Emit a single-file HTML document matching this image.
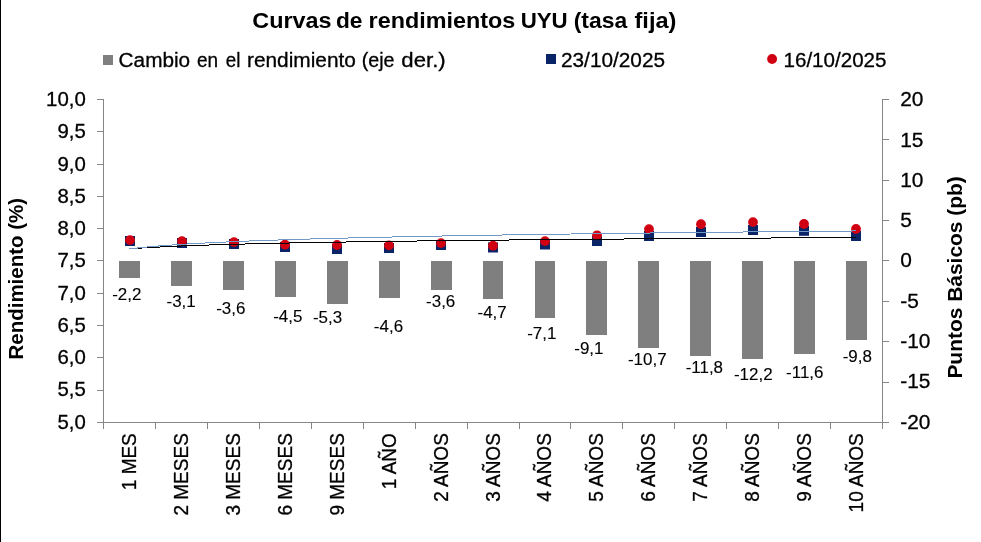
<!DOCTYPE html>
<html><head><meta charset="utf-8"><title>Curvas de rendimientos UYU</title>
<style>html,body{margin:0;padding:0;background:#fff;}body{width:981px;height:542px;position:relative;overflow:hidden;font-family:"Liberation Sans",sans-serif;}</style></head>
<body>
<svg width="981" height="542" viewBox="0 0 981 542" style="position:absolute;left:0;top:0;will-change:transform;font-family:'Liberation Sans',sans-serif">
<rect x="0" y="0" width="981" height="542" fill="#fff"/>
<rect x="0" y="0" width="1" height="542" fill="#000"/>
<text id="tw0" x="252.28" y="28.4" font-size="22.9" font-weight="bold" fill="#000" textLength="79.27" lengthAdjust="spacingAndGlyphs">Curvas</text>
<text id="tw1" x="335.88" y="28.4" font-size="22.9" font-weight="bold" fill="#000" textLength="26.49" lengthAdjust="spacingAndGlyphs">de</text>
<text id="tw2" x="368.59" y="28.4" font-size="22.9" font-weight="bold" fill="#000" textLength="146.71" lengthAdjust="spacingAndGlyphs">rendimientos</text>
<text id="tw3" x="520.68" y="28.4" font-size="22.9" font-weight="bold" fill="#000" textLength="47.05" lengthAdjust="spacingAndGlyphs">UYU</text>
<text id="tw4" x="573.68" y="28.4" font-size="22.9" font-weight="bold" fill="#000" textLength="53.50" lengthAdjust="spacingAndGlyphs">(tasa</text>
<text id="tw5" x="634.53" y="28.4" font-size="22.9" font-weight="bold" fill="#000" textLength="41.94" lengthAdjust="spacingAndGlyphs">fija)</text>
<rect x="103" y="55" width="10" height="10" fill="#7f7f7f"/>
<text id="lw0" x="118.62" y="66.8" font-size="20" fill="#000" stroke="#000" stroke-width="0.3" textLength="71.55" lengthAdjust="spacingAndGlyphs">Cambio</text>
<text id="lw1" x="197.00" y="66.8" font-size="20" fill="#000" stroke="#000" stroke-width="0.3" textLength="21.15" lengthAdjust="spacingAndGlyphs">en</text>
<text id="lw2" x="225.75" y="66.8" font-size="20" fill="#000" stroke="#000" stroke-width="0.3" textLength="14.63" lengthAdjust="spacingAndGlyphs">el</text>
<text id="lw3" x="247.00" y="66.8" font-size="20" fill="#000" stroke="#000" stroke-width="0.3" textLength="108.88" lengthAdjust="spacingAndGlyphs">rendimiento</text>
<text id="lw4" x="361.73" y="66.8" font-size="20" fill="#000" stroke="#000" stroke-width="0.3" textLength="32.82" lengthAdjust="spacingAndGlyphs">(eje</text>
<text id="lw5" x="401.38" y="66.8" font-size="20" fill="#000" stroke="#000" stroke-width="0.3" textLength="44.36" lengthAdjust="spacingAndGlyphs">der.)</text>
<rect x="546" y="54" width="10" height="10" fill="#0a2468"/>
<text id="leg2" stroke="#000" stroke-width="0.3" x="561" y="66.8" font-size="20.3" fill="#000" textLength="104" lengthAdjust="spacingAndGlyphs">23/10/2025</text>
<circle cx="772.1" cy="58.95" r="4.95" fill="#d00012"/>
<text id="leg3" stroke="#000" stroke-width="0.3" x="783.5" y="66.8" font-size="20.3" fill="#000" textLength="103" lengthAdjust="spacingAndGlyphs">16/10/2025</text>
<g fill="#868686" shape-rendering="crispEdges">
<rect x="103" y="99" width="1" height="324"/>
<rect x="882" y="99" width="1" height="324"/>
<rect x="103" y="422" width="780" height="1"/>
<rect x="97" y="99" width="6" height="1"/>
<rect x="97" y="131" width="6" height="1"/>
<rect x="97" y="164" width="6" height="1"/>
<rect x="97" y="196" width="6" height="1"/>
<rect x="97" y="228" width="6" height="1"/>
<rect x="97" y="260" width="6" height="1"/>
<rect x="97" y="293" width="6" height="1"/>
<rect x="97" y="325" width="6" height="1"/>
<rect x="97" y="357" width="6" height="1"/>
<rect x="97" y="390" width="6" height="1"/>
<rect x="97" y="422" width="6" height="1"/>
<rect x="883" y="99" width="6" height="1"/>
<rect x="883" y="139" width="6" height="1"/>
<rect x="883" y="180" width="6" height="1"/>
<rect x="883" y="220" width="6" height="1"/>
<rect x="883" y="260" width="6" height="1"/>
<rect x="883" y="301" width="6" height="1"/>
<rect x="883" y="341" width="6" height="1"/>
<rect x="883" y="382" width="6" height="1"/>
<rect x="883" y="422" width="6" height="1"/>
<rect x="103" y="423" width="1" height="6"/>
<rect x="155" y="423" width="1" height="6"/>
<rect x="207" y="423" width="1" height="6"/>
<rect x="259" y="423" width="1" height="6"/>
<rect x="311" y="423" width="1" height="6"/>
<rect x="363" y="423" width="1" height="6"/>
<rect x="415" y="423" width="1" height="6"/>
<rect x="467" y="423" width="1" height="6"/>
<rect x="519" y="423" width="1" height="6"/>
<rect x="570" y="423" width="1" height="6"/>
<rect x="622" y="423" width="1" height="6"/>
<rect x="674" y="423" width="1" height="6"/>
<rect x="726" y="423" width="1" height="6"/>
<rect x="778" y="423" width="1" height="6"/>
<rect x="830" y="423" width="1" height="6"/>
<rect x="882" y="423" width="1" height="6"/>
</g>
<text class="ly" stroke="#000" stroke-width="0.3" x="85.8" y="106.15" text-anchor="end" font-size="21" fill="#000" textLength="39.70" lengthAdjust="spacingAndGlyphs">10,0</text>
<text class="ly" stroke="#000" stroke-width="0.3" x="85.8" y="138.40" text-anchor="end" font-size="21" fill="#000" textLength="28.36" lengthAdjust="spacingAndGlyphs">9,5</text>
<text class="ly" stroke="#000" stroke-width="0.3" x="85.8" y="170.65" text-anchor="end" font-size="21" fill="#000" textLength="28.36" lengthAdjust="spacingAndGlyphs">9,0</text>
<text class="ly" stroke="#000" stroke-width="0.3" x="85.8" y="202.90" text-anchor="end" font-size="21" fill="#000" textLength="28.36" lengthAdjust="spacingAndGlyphs">8,5</text>
<text class="ly" stroke="#000" stroke-width="0.3" x="85.8" y="235.15" text-anchor="end" font-size="21" fill="#000" textLength="28.36" lengthAdjust="spacingAndGlyphs">8,0</text>
<text class="ly" stroke="#000" stroke-width="0.3" x="85.8" y="267.40" text-anchor="end" font-size="21" fill="#000" textLength="28.36" lengthAdjust="spacingAndGlyphs">7,5</text>
<text class="ly" stroke="#000" stroke-width="0.3" x="85.8" y="299.65" text-anchor="end" font-size="21" fill="#000" textLength="28.36" lengthAdjust="spacingAndGlyphs">7,0</text>
<text class="ly" stroke="#000" stroke-width="0.3" x="85.8" y="331.90" text-anchor="end" font-size="21" fill="#000" textLength="28.36" lengthAdjust="spacingAndGlyphs">6,5</text>
<text class="ly" stroke="#000" stroke-width="0.3" x="85.8" y="364.15" text-anchor="end" font-size="21" fill="#000" textLength="28.36" lengthAdjust="spacingAndGlyphs">6,0</text>
<text class="ly" stroke="#000" stroke-width="0.3" x="85.8" y="396.40" text-anchor="end" font-size="21" fill="#000" textLength="28.36" lengthAdjust="spacingAndGlyphs">5,5</text>
<text class="ly" stroke="#000" stroke-width="0.3" x="85.8" y="428.65" text-anchor="end" font-size="21" fill="#000" textLength="28.36" lengthAdjust="spacingAndGlyphs">5,0</text>
<text class="ry" stroke="#000" stroke-width="0.3" x="900.2" y="106.20" font-size="20.9" fill="#000" textLength="23.25" lengthAdjust="spacingAndGlyphs">20</text>
<text class="ry" stroke="#000" stroke-width="0.3" x="900.2" y="146.51" font-size="20.9" fill="#000" textLength="23.25" lengthAdjust="spacingAndGlyphs">15</text>
<text class="ry" stroke="#000" stroke-width="0.3" x="900.2" y="186.82" font-size="20.9" fill="#000" textLength="23.25" lengthAdjust="spacingAndGlyphs">10</text>
<text class="ry" stroke="#000" stroke-width="0.3" x="900.2" y="227.14" font-size="20.9" fill="#000" textLength="11.62" lengthAdjust="spacingAndGlyphs">5</text>
<text class="ry" stroke="#000" stroke-width="0.3" x="900.2" y="267.45" font-size="20.9" fill="#000" textLength="11.62" lengthAdjust="spacingAndGlyphs">0</text>
<text class="ry" stroke="#000" stroke-width="0.3" x="900.2" y="307.76" font-size="20.9" fill="#000" textLength="18.58" lengthAdjust="spacingAndGlyphs">-5</text>
<text class="ry" stroke="#000" stroke-width="0.3" x="900.2" y="348.07" font-size="20.9" fill="#000" textLength="30.21" lengthAdjust="spacingAndGlyphs">-10</text>
<text class="ry" stroke="#000" stroke-width="0.3" x="900.2" y="388.39" font-size="20.9" fill="#000" textLength="30.21" lengthAdjust="spacingAndGlyphs">-15</text>
<text class="ry" stroke="#000" stroke-width="0.3" x="900.2" y="428.70" font-size="20.9" fill="#000" textLength="30.21" lengthAdjust="spacingAndGlyphs">-20</text>
<text id="ytl" transform="translate(23.3,359.4) rotate(-90)" font-size="20.3" font-weight="bold" fill="#000" textLength="161.4" lengthAdjust="spacingAndGlyphs">Rendimiento (%)</text>
<text id="ytr" transform="translate(961.7,378.6) rotate(-90)" font-size="20.2" font-weight="bold" fill="#000" textLength="202.4" lengthAdjust="spacingAndGlyphs">Puntos Básicos (pb)</text>
<rect x="119" y="261" width="21" height="17.00" fill="#7f7f7f"/>
<rect x="171" y="261" width="21" height="25.00" fill="#7f7f7f"/>
<rect x="223" y="261" width="21" height="29.00" fill="#7f7f7f"/>
<rect x="275" y="261" width="21" height="36.00" fill="#7f7f7f"/>
<rect x="327" y="261" width="21" height="43.00" fill="#7f7f7f"/>
<rect x="379" y="261" width="21" height="37.00" fill="#7f7f7f"/>
<rect x="431" y="261" width="21" height="29.00" fill="#7f7f7f"/>
<rect x="483" y="261" width="20" height="38.00" fill="#7f7f7f"/>
<rect x="535" y="261" width="20" height="57.00" fill="#7f7f7f"/>
<rect x="586" y="261" width="21" height="74.00" fill="#7f7f7f"/>
<rect x="638" y="261" width="21" height="87.00" fill="#7f7f7f"/>
<rect x="690" y="261" width="21" height="95.00" fill="#7f7f7f"/>
<rect x="742" y="261" width="21" height="98.00" fill="#7f7f7f"/>
<rect x="794" y="261" width="21" height="93.00" fill="#7f7f7f"/>
<rect x="846" y="261" width="21" height="79.00" fill="#7f7f7f"/>
<text class="dl" stroke="#000" stroke-width="0.12" x="126.80" y="300.00" text-anchor="middle" font-size="16.4" fill="#000" textLength="29.22" lengthAdjust="spacingAndGlyphs">-2,2</text>
<text class="dl" stroke="#000" stroke-width="0.12" x="181.10" y="307.10" text-anchor="middle" font-size="16.4" fill="#000" textLength="29.22" lengthAdjust="spacingAndGlyphs">-3,1</text>
<text class="dl" stroke="#000" stroke-width="0.12" x="230.80" y="313.70" text-anchor="middle" font-size="16.4" fill="#000" textLength="29.22" lengthAdjust="spacingAndGlyphs">-3,6</text>
<text class="dl" stroke="#000" stroke-width="0.12" x="287.80" y="322.20" text-anchor="middle" font-size="16.4" fill="#000" textLength="29.22" lengthAdjust="spacingAndGlyphs">-4,5</text>
<text class="dl" stroke="#000" stroke-width="0.12" x="327.55" y="323.00" text-anchor="middle" font-size="16.4" fill="#000" textLength="29.22" lengthAdjust="spacingAndGlyphs">-5,3</text>
<text class="dl" stroke="#000" stroke-width="0.12" x="388.50" y="331.50" text-anchor="middle" font-size="16.4" fill="#000" textLength="29.22" lengthAdjust="spacingAndGlyphs">-4,6</text>
<text class="dl" stroke="#000" stroke-width="0.12" x="440.70" y="307.10" text-anchor="middle" font-size="16.4" fill="#000" textLength="29.22" lengthAdjust="spacingAndGlyphs">-3,6</text>
<text class="dl" stroke="#000" stroke-width="0.12" x="492.15" y="318.20" text-anchor="middle" font-size="16.4" fill="#000" textLength="29.22" lengthAdjust="spacingAndGlyphs">-4,7</text>
<text class="dl" stroke="#000" stroke-width="0.12" x="541.80" y="339.40" text-anchor="middle" font-size="16.4" fill="#000" textLength="29.22" lengthAdjust="spacingAndGlyphs">-7,1</text>
<text class="dl" stroke="#000" stroke-width="0.12" x="588.85" y="353.60" text-anchor="middle" font-size="16.4" fill="#000" textLength="29.22" lengthAdjust="spacingAndGlyphs">-9,1</text>
<text class="dl" stroke="#000" stroke-width="0.12" x="647.25" y="365.00" text-anchor="middle" font-size="16.4" fill="#000" textLength="38.66" lengthAdjust="spacingAndGlyphs">-10,7</text>
<text class="dl" stroke="#000" stroke-width="0.12" x="704.35" y="373.20" text-anchor="middle" font-size="16.4" fill="#000" textLength="37.40" lengthAdjust="spacingAndGlyphs">-11,8</text>
<text class="dl" stroke="#000" stroke-width="0.12" x="753.25" y="379.70" text-anchor="middle" font-size="16.4" fill="#000" textLength="38.66" lengthAdjust="spacingAndGlyphs">-12,2</text>
<text class="dl" stroke="#000" stroke-width="0.12" x="804.80" y="378.10" text-anchor="middle" font-size="16.4" fill="#000" textLength="37.40" lengthAdjust="spacingAndGlyphs">-11,6</text>
<text class="dl" stroke="#000" stroke-width="0.12" x="857.30" y="361.80" text-anchor="middle" font-size="16.4" fill="#000" textLength="29.22" lengthAdjust="spacingAndGlyphs">-9,8</text>
<text class="cat" stroke="#000" stroke-width="0.3" transform="translate(136.00,433.2) rotate(-90)" text-anchor="end" font-size="20" fill="#000" textLength="57.02" lengthAdjust="spacingAndGlyphs">1 MES</text>
<text class="cat" stroke="#000" stroke-width="0.3" transform="translate(187.94,433.2) rotate(-90)" text-anchor="end" font-size="20" fill="#000" textLength="82.36" lengthAdjust="spacingAndGlyphs">2 MESES</text>
<text class="cat" stroke="#000" stroke-width="0.3" transform="translate(239.87,433.2) rotate(-90)" text-anchor="end" font-size="20" fill="#000" textLength="82.36" lengthAdjust="spacingAndGlyphs">3 MESES</text>
<text class="cat" stroke="#000" stroke-width="0.3" transform="translate(291.81,433.2) rotate(-90)" text-anchor="end" font-size="20" fill="#000" textLength="82.36" lengthAdjust="spacingAndGlyphs">6 MESES</text>
<text class="cat" stroke="#000" stroke-width="0.3" transform="translate(343.74,433.2) rotate(-90)" text-anchor="end" font-size="20" fill="#000" textLength="82.36" lengthAdjust="spacingAndGlyphs">9 MESES</text>
<text class="cat" stroke="#000" stroke-width="0.3" transform="translate(395.68,433.2) rotate(-90)" text-anchor="end" font-size="20" fill="#000" textLength="55.97" lengthAdjust="spacingAndGlyphs">1 AÑO</text>
<text class="cat" stroke="#000" stroke-width="0.3" transform="translate(447.62,433.2) rotate(-90)" text-anchor="end" font-size="20" fill="#000" textLength="68.64" lengthAdjust="spacingAndGlyphs">2 AÑOS</text>
<text class="cat" stroke="#000" stroke-width="0.3" transform="translate(499.55,433.2) rotate(-90)" text-anchor="end" font-size="20" fill="#000" textLength="68.64" lengthAdjust="spacingAndGlyphs">3 AÑOS</text>
<text class="cat" stroke="#000" stroke-width="0.3" transform="translate(551.49,433.2) rotate(-90)" text-anchor="end" font-size="20" fill="#000" textLength="68.64" lengthAdjust="spacingAndGlyphs">4 AÑOS</text>
<text class="cat" stroke="#000" stroke-width="0.3" transform="translate(603.42,433.2) rotate(-90)" text-anchor="end" font-size="20" fill="#000" textLength="68.64" lengthAdjust="spacingAndGlyphs">5 AÑOS</text>
<text class="cat" stroke="#000" stroke-width="0.3" transform="translate(655.36,433.2) rotate(-90)" text-anchor="end" font-size="20" fill="#000" textLength="68.64" lengthAdjust="spacingAndGlyphs">6 AÑOS</text>
<text class="cat" stroke="#000" stroke-width="0.3" transform="translate(707.30,433.2) rotate(-90)" text-anchor="end" font-size="20" fill="#000" textLength="68.64" lengthAdjust="spacingAndGlyphs">7 AÑOS</text>
<text class="cat" stroke="#000" stroke-width="0.3" transform="translate(759.23,433.2) rotate(-90)" text-anchor="end" font-size="20" fill="#000" textLength="68.64" lengthAdjust="spacingAndGlyphs">8 AÑOS</text>
<text class="cat" stroke="#000" stroke-width="0.3" transform="translate(811.17,433.2) rotate(-90)" text-anchor="end" font-size="20" fill="#000" textLength="68.64" lengthAdjust="spacingAndGlyphs">9 AÑOS</text>
<text class="cat" stroke="#000" stroke-width="0.3" transform="translate(863.10,433.2) rotate(-90)" text-anchor="end" font-size="20" fill="#000" textLength="79.21" lengthAdjust="spacingAndGlyphs">10 AÑOS</text>
<rect x="125.00" y="236.00" width="10" height="10" fill="#0a2468"/>
<rect x="177.00" y="238.00" width="10" height="10" fill="#0a2468"/>
<rect x="229.00" y="239.00" width="10" height="10" fill="#0a2468"/>
<rect x="280.00" y="242.00" width="10" height="10" fill="#0a2468"/>
<rect x="332.00" y="244.00" width="10" height="10" fill="#0a2468"/>
<rect x="384.00" y="243.00" width="10" height="10" fill="#0a2468"/>
<rect x="436.00" y="240.00" width="10" height="10" fill="#0a2468"/>
<rect x="488.00" y="242.50" width="10" height="10" fill="#0a2468"/>
<rect x="540.00" y="239.50" width="10" height="10" fill="#0a2468"/>
<rect x="592.00" y="236.00" width="10" height="10" fill="#0a2468"/>
<rect x="644.00" y="231.00" width="10" height="10" fill="#0a2468"/>
<rect x="696.00" y="227.00" width="10" height="10" fill="#0a2468"/>
<rect x="748.00" y="225.00" width="10" height="10" fill="#0a2468"/>
<rect x="799.00" y="225.80" width="10" height="10" fill="#0a2468"/>
<rect x="851.00" y="231.00" width="10" height="10" fill="#0a2468"/>
<circle cx="130.00" cy="240.10" r="4.9" fill="#d00012"/>
<circle cx="182.00" cy="241.10" r="4.9" fill="#d00012"/>
<circle cx="234.00" cy="242.10" r="4.9" fill="#d00012"/>
<circle cx="285.00" cy="244.70" r="4.9" fill="#d00012"/>
<circle cx="337.00" cy="245.00" r="4.9" fill="#d00012"/>
<circle cx="389.00" cy="245.40" r="4.9" fill="#d00012"/>
<circle cx="441.00" cy="243.10" r="4.9" fill="#d00012"/>
<circle cx="493.00" cy="245.70" r="4.9" fill="#d00012"/>
<circle cx="545.00" cy="241.10" r="4.9" fill="#d00012"/>
<circle cx="597.00" cy="235.30" r="4.9" fill="#d00012"/>
<circle cx="649.00" cy="229.10" r="4.9" fill="#d00012"/>
<circle cx="701.00" cy="224.20" r="4.9" fill="#d00012"/>
<circle cx="753.00" cy="222.10" r="4.9" fill="#d00012"/>
<circle cx="804.00" cy="224.00" r="4.9" fill="#d00012"/>
<circle cx="856.00" cy="229.00" r="4.9" fill="#d00012"/>
<polyline points="129.00,248.96 135.06,248.49 141.12,248.07 147.18,247.69 153.23,247.34 159.29,247.02 165.35,246.72 171.41,246.44 177.47,246.17 183.52,245.92 189.58,245.69 195.64,245.47 201.70,245.26 207.76,245.06 213.82,244.87 219.88,244.68 225.93,244.51 231.99,244.34 238.05,244.18 244.11,244.02 250.17,243.87 256.23,243.72 262.28,243.58 268.34,243.45 274.40,243.32 280.46,243.19 286.52,243.06 292.58,242.94 298.63,242.83 304.69,242.71 310.75,242.60 316.81,242.49 322.87,242.39 328.92,242.28 334.98,242.18 341.04,242.09 347.10,241.99 353.16,241.90 359.22,241.80 365.27,241.71 371.33,241.63 377.39,241.54 383.45,241.46 389.51,241.37 395.57,241.29 401.62,241.21 407.68,241.13 413.74,241.06 419.80,240.98 425.86,240.91 431.92,240.83 437.98,240.76 444.03,240.69 450.09,240.62 456.15,240.56 462.21,240.49 468.27,240.42 474.32,240.36 480.38,240.29 486.44,240.23 492.50,240.17 498.56,240.11 504.62,240.05 510.68,239.99 516.73,239.93 522.79,239.87 528.85,239.81 534.91,239.76 540.97,239.70 547.03,239.65 553.08,239.59 559.14,239.54 565.20,239.49 571.26,239.43 577.32,239.38 583.38,239.33 589.43,239.28 595.49,239.23 601.55,239.18 607.61,239.13 613.67,239.09 619.72,239.04 625.78,238.99 631.84,238.94 637.90,238.90 643.96,238.85 650.02,238.81 656.08,238.76 662.13,238.72 668.19,238.68 674.25,238.63 680.31,238.59 686.37,238.55 692.42,238.51 698.48,238.47 704.54,238.42 710.60,238.38 716.66,238.34 722.72,238.30 728.77,238.26 734.83,238.22 740.89,238.19 746.95,238.15 753.01,238.11 759.07,238.07 765.12,238.03 771.18,238.00 777.24,237.96 783.30,237.92 789.36,237.89 795.42,237.85 801.48,237.82 807.53,237.78 813.59,237.75 819.65,237.71 825.71,237.68 831.77,237.64 837.83,237.61 843.88,237.58 849.94,237.54 856.00,237.51" fill="none" stroke="#000" stroke-width="1" shape-rendering="crispEdges"/>
<polyline points="129.00,249.00 135.06,248.27 141.12,247.60 147.18,247.00 153.23,246.45 159.29,245.94 165.35,245.47 171.41,245.03 177.47,244.61 183.52,244.22 189.58,243.85 195.64,243.50 201.70,243.17 207.76,242.86 213.82,242.55 219.88,242.26 225.93,241.99 231.99,241.72 238.05,241.47 244.11,241.22 250.17,240.98 256.23,240.75 262.28,240.53 268.34,240.32 274.40,240.11 280.46,239.91 286.52,239.71 292.58,239.53 298.63,239.34 304.69,239.16 310.75,238.99 316.81,238.82 322.87,238.65 328.92,238.49 334.98,238.33 341.04,238.17 347.10,238.02 353.16,237.88 359.22,237.73 365.27,237.59 371.33,237.45 377.39,237.32 383.45,237.18 389.51,237.05 395.57,236.92 401.62,236.80 407.68,236.68 413.74,236.55 419.80,236.44 425.86,236.32 431.92,236.20 437.98,236.09 444.03,235.98 450.09,235.87 456.15,235.76 462.21,235.66 468.27,235.56 474.32,235.45 480.38,235.35 486.44,235.25 492.50,235.16 498.56,235.06 504.62,234.96 510.68,234.87 516.73,234.78 522.79,234.69 528.85,234.60 534.91,234.51 540.97,234.42 547.03,234.33 553.08,234.25 559.14,234.16 565.20,234.08 571.26,234.00 577.32,233.92 583.38,233.84 589.43,233.76 595.49,233.68 601.55,233.60 607.61,233.53 613.67,233.45 619.72,233.38 625.78,233.30 631.84,233.23 637.90,233.16 643.96,233.09 650.02,233.01 656.08,232.94 662.13,232.88 668.19,232.81 674.25,232.74 680.31,232.67 686.37,232.61 692.42,232.54 698.48,232.47 704.54,232.41 710.60,232.35 716.66,232.28 722.72,232.22 728.77,232.16 734.83,232.10 740.89,232.03 746.95,231.97 753.01,231.91 759.07,231.85 765.12,231.80 771.18,231.74 777.24,231.68 783.30,231.62 789.36,231.57 795.42,231.51 801.48,231.45 807.53,231.40 813.59,231.34 819.65,231.29 825.71,231.23 831.77,231.18 837.83,231.13 843.88,231.07 849.94,231.02 856.00,230.97" fill="none" stroke="#7399c6" stroke-width="1" shape-rendering="crispEdges"/>
</svg>
</body></html>
